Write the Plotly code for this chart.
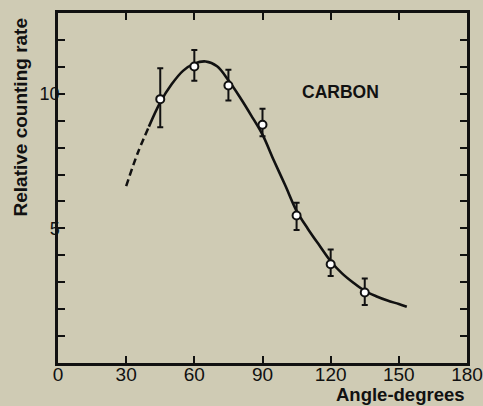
import plotly.graph_objects as go

# Measured counting rates (relative) versus scattering angle for carbon
angles = [45, 60, 75, 90, 105, 120, 135]
rates = [9.80, 11.01, 10.31, 8.85, 5.48, 3.67, 2.62]
err_plus = [1.15, 0.62, 0.58, 0.59, 0.47, 0.55, 0.52]
err_minus = [1.04, 0.53, 0.56, 0.43, 0.54, 0.44, 0.47]

# Fitted curve read on a 5-degree grid: dashed extrapolation below 40 deg
curve_dash_x = [30, 35, 40]
curve_dash_y = [6.57, 7.78, 8.78]
curve_x = [40, 45, 50, 55, 60, 65, 70, 75, 80, 85, 90, 95, 100, 105,
           110, 115, 120, 125, 130, 135, 140, 145, 150, 153.5]
curve_y = [8.78, 9.68, 10.35, 10.85, 11.12, 11.20, 11.02, 10.50, 9.88,
           9.20, 8.48, 7.52, 6.60, 5.65, 4.98, 4.37, 3.78, 3.33, 2.98,
           2.68, 2.48, 2.32, 2.19, 2.09]

x_ticks = [0, 30, 60, 90, 120, 150, 180]
y_ticks = list(range(1, 13))
y_labels = ["5" if v == 5 else "10" if v == 10 else "" for v in y_ticks]

bg = "#cfcbb4"
ink = "#111111"
font_family = "Liberation Sans, Arial, sans-serif"

fig = go.Figure()

fig.add_trace(go.Scatter(
    x=curve_dash_x, y=curve_dash_y, mode="lines",
    line=dict(color=ink, width=2.5, dash="7px,4px", shape="spline"),
    hoverinfo="skip", showlegend=False))

fig.add_trace(go.Scatter(
    x=curve_x, y=curve_y, mode="lines",
    line=dict(color=ink, width=2.6, shape="spline"),
    hoverinfo="skip", showlegend=False))

fig.add_trace(go.Scatter(
    x=angles, y=rates, mode="markers",
    marker=dict(symbol="circle", size=8, color="white",
                line=dict(color=ink, width=2)),
    error_y=dict(type="data", symmetric=False, array=err_plus,
                 arrayminus=err_minus, color=ink, thickness=2, width=3),
    showlegend=False))

fig.add_annotation(x=124.5, y=10.07, text="<b>CARBON</b>", showarrow=False,
                   font=dict(family=font_family, size=17.5, color=ink))

fig.add_annotation(xref="paper", yref="paper", x=1.0, y=0, yshift=-19,
                   xanchor="right", yanchor="top", text="<b>Angle-degrees</b>",
                   showarrow=False,
                   font=dict(family=font_family, size=18.5, color=ink))

fig.add_annotation(xref="paper", yref="paper", x=0, xshift=-38, y=1.0,
                   yshift=-3, xanchor="center", yanchor="top", textangle=-90,
                   text="<b>Relative counting rate</b>", showarrow=False,
                   font=dict(family=font_family, size=19, color=ink))

fig.update_xaxes(range=[0, 180], tickvals=x_ticks, ticks="inside",
                 ticklen=7, tickwidth=2, tickcolor=ink, showline=True,
                 linecolor=ink, linewidth=2.5, mirror="ticks",
                 showgrid=False, zeroline=False, ticklabelstandoff=-8,
                 automargin=False,
                 tickfont=dict(family=font_family, size=19, color=ink))

fig.update_yaxes(range=[0, 13], tickvals=y_ticks, ticktext=y_labels,
                 ticks="inside", ticklen=7, tickwidth=2, tickcolor=ink,
                 showline=True, linecolor=ink, linewidth=2.5, mirror="ticks",
                 showgrid=False, zeroline=False, ticklabelstandoff=-8,
                 automargin=False,
                 tickfont=dict(family=font_family, size=18, color=ink))

fig.update_layout(width=483, height=406,
                  margin=dict(l=58, r=16, t=13, b=43),
                  paper_bgcolor=bg, plot_bgcolor=bg)

fig.write_html("out.html")
